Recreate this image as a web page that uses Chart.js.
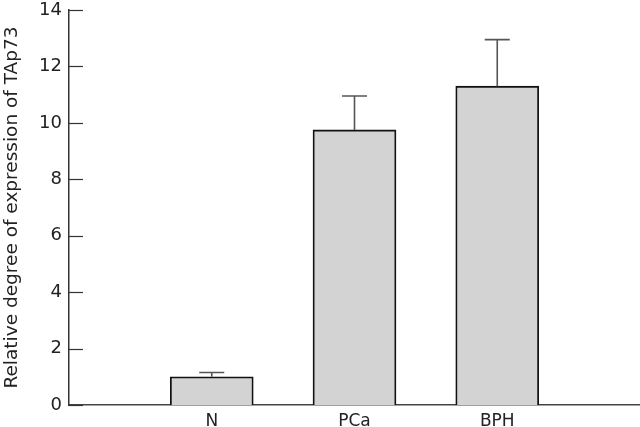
<!DOCTYPE html>
<html>
<head>
<meta charset="utf-8">
<script src="https://cdn.jsdelivr.net/npm/chart.js@4.4.1/dist/chart.umd.min.js"></script>
<style>
html,body{margin:0;padding:0;background:#fff;}
#wrap{width:640px;height:427px;position:relative;}
</style>
</head>
<body>
<div id="wrap"><canvas id="c" width="640" height="427"></canvas></div>
<script>
const categories = ['N', 'PCa', 'BPH'];
const means = [1.0, 9.75, 11.3];
const errors = [0.15, 1.2, 1.65];
const yTicks = [0, 2, 4, 6, 8, 10, 12, 14];
const yTitle = 'Relative degree of expression of TAp73';

const labels = [''].concat(categories, ['']);
const values = [null].concat(means, [null]);
const errs = [null].concat(errors, [null]);

const FONT = '"DejaVu Sans", "Liberation Sans", sans-serif';

const errorBarPlugin = {
  id: 'errorBars',
  afterDatasetsDraw(chart) {
    const ctx = chart.ctx;
    const meta = chart.getDatasetMeta(0);
    const ys = chart.scales.y;
    ctx.save();
    ctx.strokeStyle = '#555';
    ctx.lineWidth = 1.6;
    meta.data.forEach((bar, i) => {
      if (values[i] == null) return;
      const yb = ys.getPixelForValue(values[i]);
      const yt = ys.getPixelForValue(values[i] + errs[i]);
      ctx.beginPath();
      ctx.moveTo(bar.x, yb);
      ctx.lineTo(bar.x, yt);
      ctx.moveTo(bar.x - 12.5, yt);
      ctx.lineTo(bar.x + 12.5, yt);
      ctx.stroke();
    });
    ctx.restore();
  }
};

const innerTicksPlugin = {
  id: 'innerTicks',
  afterDraw(chart) {
    const ctx = chart.ctx;
    const ys = chart.scales.y;
    const x0 = chart.chartArea.left;
    ctx.save();
    ctx.strokeStyle = '#333';
    ctx.lineWidth = 1.2;
    yTicks.forEach(v => {
      const y = Math.round(ys.getPixelForValue(v)) + 0.5;
      ctx.beginPath();
      ctx.moveTo(x0, y);
      ctx.lineTo(x0 + 14, y);
      ctx.stroke();
    });
    ctx.restore();
  }
};

new Chart(document.getElementById('c'), {
  type: 'bar',
  data: {
    labels: labels,
    datasets: [{
      data: values,
      backgroundColor: '#d3d3d3',
      borderColor: '#111',
      borderWidth: 1.8,
      borderSkipped: 'bottom',
      barThickness: 83
    }]
  },
  options: {
    responsive: false,
    animation: false,
    devicePixelRatio: 1,
    layout: { padding: { left: 0, right: 0, top: 0, bottom: 0 } },
    plugins: { legend: { display: false }, tooltip: { enabled: false } },
    scales: {
      x: {
        offset: false,
        grid: { display: false, drawTicks: false },
        border: { display: true, color: '#444', width: 1.5 },
        ticks: {
          autoSkip: false, maxRotation: 0, padding: 6,
          color: '#222', font: { family: FONT, size: 17 }
        },
        afterFit(s) { s.height = 22; s.paddingLeft = 0; s.paddingRight = 0; }
      },
      y: {
        min: 0, max: 14,
        grid: { display: false, drawTicks: false },
        border: { display: true, color: '#333', width: 1.5 },
        afterBuildTicks(s) { s.ticks = yTicks.map(v => ({ value: v })); },
        ticks: {
          padding: 7, color: '#222', font: { family: FONT, size: 18 }
        },
        title: {
          display: true, text: yTitle, color: '#222',
          font: { family: FONT, size: 18.5 }, padding: { top: 1, bottom: 4 }
        },
        afterFit(s) { s.width = 69; s.paddingTop = 10; s.paddingBottom = 0; }
      }
    }
  },
  plugins: [errorBarPlugin, innerTicksPlugin]
});
</script>
</body>
</html>
